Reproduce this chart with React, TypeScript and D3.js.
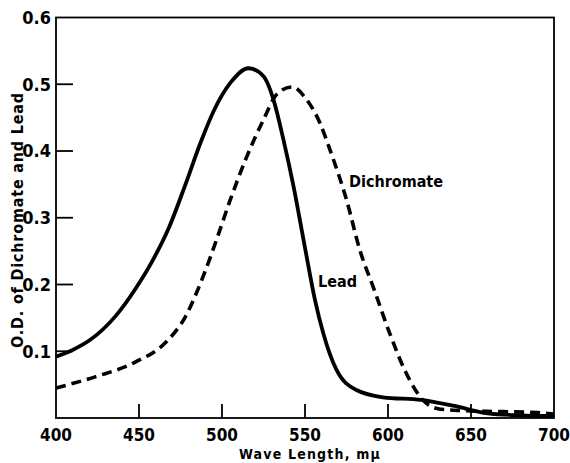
import * as d3 from "d3";

const W = 570;
const H = 463;

// wave length (m\u03bc) and optical density
const leadWave = [400, 410, 420, 436, 448, 458, 468, 478, 487, 495, 505, 516, 525, 531, 537, 543, 550, 556, 561, 569, 581, 597, 620, 640, 660, 680, 700];
const leadOD = [0.092, 0.102, 0.116, 0.153, 0.194, 0.235, 0.285, 0.35, 0.412, 0.46, 0.502, 0.524, 0.512, 0.477, 0.417, 0.348, 0.255, 0.177, 0.127, 0.072, 0.042, 0.031, 0.027, 0.018, 0.007, 0.004, 0.003];

const dichWave = [400, 424, 448, 466, 478, 488, 496, 505, 515, 525, 533, 542, 551, 559, 565, 575, 583, 592, 601, 611, 621, 630, 645, 660, 690, 700];
const dichOD = [0.045, 0.062, 0.084, 0.113, 0.152, 0.208, 0.262, 0.327, 0.392, 0.447, 0.485, 0.496, 0.477, 0.442, 0.402, 0.327, 0.252, 0.19, 0.127, 0.067, 0.027, 0.014, 0.011, 0.01, 0.008, 0.006];

const xTicks = [400, 450, 500, 550, 600, 650, 700];
const yTicks = [0.1, 0.2, 0.3, 0.4, 0.5, 0.6];

const FONT = "'DejaVu Sans Condensed', 'DejaVu Sans', sans-serif";

export default function App() {
  const x = d3.scaleLinear().domain([400, 700]).range([56, 554]);
  const y = d3.scaleLinear().domain([0, 0.6]).range([418, 17.5]);

  const line = d3
    .line<[number, number]>()
    .x((d) => x(d[0]))
    .y((d) => y(d[1]))
    .curve(d3.curveMonotoneX);

  const lead = leadWave.map((w, i) => [w, leadOD[i]] as [number, number]);
  const dich = dichWave.map((w, i) => [w, dichOD[i]] as [number, number]);

  const [x0, x1] = x.range();
  const [y0, y1] = y.range();

  return (
    <svg
      width={W}
      height={H}
      style={{ position: "absolute", left: 0, top: 0, background: "#fff" }}
      fontFamily={FONT}
      fontWeight="bold"
    >
      {/* frame */}
      <rect x={x0} y={y1} width={x1 - x0} height={y0 - y1} fill="none" stroke="#000" strokeWidth={1.8} />

      {/* y ticks inward */}
      {yTicks.map((t) => (
        <g key={t}>
          {t < 0.6 && <line x1={x0} x2={x0 + 17} y1={y(t)} y2={y(t)} stroke="#000" strokeWidth={1.8} />}
          <text x={x0 - 5} y={y(t)} dy="0.36em" textAnchor="end" fontSize={18}>
            {t.toFixed(1)}
          </text>
        </g>
      ))}

      {/* x ticks inward */}
      {xTicks.map((t) => (
        <g key={t}>
          {t > 400 && t < 700 && <line x1={x(t)} x2={x(t)} y1={y0} y2={y0 - 14} stroke="#000" strokeWidth={1.8} />}
          <text x={x(t)} y={435} dy="0.36em" textAnchor="middle" fontSize={17}>
            {t}
          </text>
        </g>
      ))}

      {/* curves */}
      <path d={line(dich) ?? ""} fill="none" stroke="#000" strokeWidth={3.6} strokeDasharray="10 6" />
      <path d={line(lead) ?? ""} fill="none" stroke="#000" strokeWidth={3.8} />

      {/* series labels */}
      <text x={349} y={181} dy="0.36em" fontSize={16}>Dichromate</text>
      <text x={318} y={281} dy="0.36em" fontSize={16}>Lead</text>

      {/* axis titles */}
      <text x={310} y={454} dy="0.36em" textAnchor="middle" fontSize={14} letterSpacing={1.2}>
        Wave Length, m{"\u03bc"}
      </text>
      <text
        transform={`translate(17,220) rotate(-90)`}
        textAnchor="middle"
        dy="0.36em"
        fontSize={16}
        letterSpacing={0.8}
      >
        O.D. of Dichromate and Lead
      </text>
    </svg>
  );
}
